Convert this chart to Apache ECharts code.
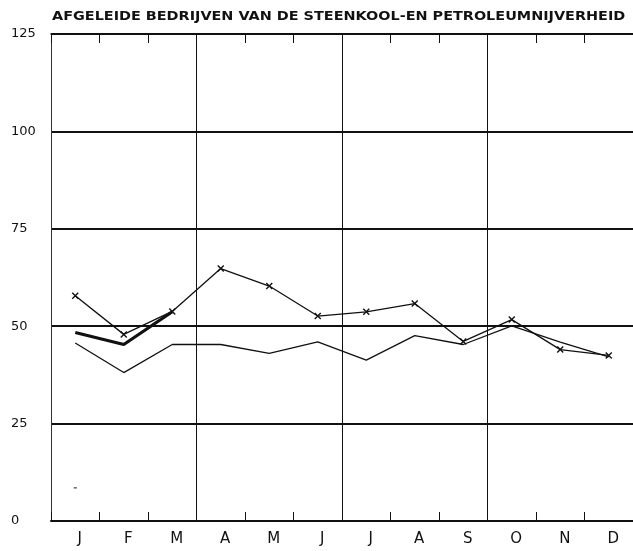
<!DOCTYPE html>
<html>
<head>
<meta charset="utf-8">
<script src="https://cdn.jsdelivr.net/npm/echarts@6/dist/echarts.min.js"></script>
<style>
html, body { margin: 0; padding: 0; background: #fff; }
#chart { width: 633px; height: 551px; }
</style>
</head>
<body>
<div id="chart"></div>
<script>
// maanden
const months = ['J', 'F', 'M', 'A', 'M', 'J', 'J', 'A', 'S', 'O', 'N', 'D'];
// reeks met kruisjes
const crossSeries = [57.8, 47.9, 53.8, 64.8, 60.3, 52.6, 53.7, 55.8, 46.1, 51.7, 44.0, 42.5];
// dikke lijn (alleen jan-mrt)
const thickSeries = [48.4, 45.3, 53.7, null, null, null, null, null, null, null, null, null];
// dunne lijn
const thinSeries = [45.7, 38.1, 45.3, 45.3, 43.0, 46.0, 41.3, 47.6, 45.3, 50.1, 45.9, 42.1];
// los streepje onderaan
const strayMark = [8.5, null, null, null, null, null, null, null, null, null, null, null];
const yMin = 0, yMax = 125, yStep = 25;
const title = 'AFGELEIDE BEDRIJVEN VAN DE STEENKOOL-EN PETROLEUMNIJVERHEID';

const ink = '#111';
const chart = echarts.init(document.getElementById('chart'));

chart.setOption({
    backgroundColor: '#fff',
    animation: false,
    grid: {
        left: 51,
        top: 34,
        width: 590,
        height: 487
    },
    graphic: [{
        type: 'text',
        x: 52,
        y: 17,
        scaleX: 1.2,
        style: {
            text: title,
            fill: ink,
            font: 'bold 12px "DejaVu Sans"',
            textVerticalAlign: 'middle'
        }
    }],
    xAxis: [{
        type: 'category',
        data: months,
        boundaryGap: true,
        position: 'bottom',
        axisLine: { show: true, lineStyle: { color: ink, width: 2 } },
        axisTick: { show: true, inside: true, length: 9, interval: 0, lineStyle: { color: ink, width: 1 } },
        axisLabel: {
            interval: 0,
            margin: 11,
            padding: [0, 0, 0, 9],
            color: ink,
            fontFamily: 'DejaVu Sans',
            fontSize: 15
        },
        splitLine: {
            show: true,
            interval: function (idx) { return idx > 0 && idx % 3 === 0; },
            lineStyle: { color: ink, width: 1 }
        }
    }, {
        type: 'category',
        data: months,
        boundaryGap: true,
        position: 'top',
        axisLine: { show: true, lineStyle: { color: ink, width: 1.5 } },
        axisTick: { show: true, inside: true, length: 9, interval: 0, lineStyle: { color: ink, width: 1 } },
        axisLabel: { show: false },
        splitLine: { show: false }
    }],
    yAxis: {
        type: 'value',
        min: yMin,
        max: yMax,
        interval: yStep,
        axisLine: { show: true, lineStyle: { color: '#333', width: 1 } },
        axisTick: { show: false },
        axisLabel: {
            margin: 40,
            align: 'left',
            color: ink,
            fontFamily: 'DejaVu Sans',
            fontSize: 13
        },
        splitLine: {
            show: true,
            lineStyle: { color: ink, width: 2 }
        }
    },
    series: [{
        name: 'dun',
        type: 'line',
        data: thinSeries,
        symbol: 'none',
        lineStyle: { color: ink, width: 1.3 },
        z: 3
    }, {
        name: 'dik',
        type: 'line',
        data: thickSeries,
        symbol: 'none',
        connectNulls: false,
        lineStyle: { color: ink, width: 3.2 },
        z: 4
    }, {
        name: 'kruisjes',
        type: 'line',
        data: crossSeries,
        symbol: 'path://M0,0L10,10M10,0L0,10',
        symbolSize: 6,
        itemStyle: { color: 'none', borderColor: ink, borderWidth: 1.4 },
        lineStyle: { color: ink, width: 1.3 },
        z: 5
    }, {
        name: 'streepje',
        type: 'line',
        data: strayMark,
        symbol: 'rect',
        symbolSize: [3, 1],
        itemStyle: { color: ink },
        lineStyle: { width: 0 },
        z: 5
    }]
});

window.onresize = function () {
    chart.resize();
}
</script>
</body>
</html>
